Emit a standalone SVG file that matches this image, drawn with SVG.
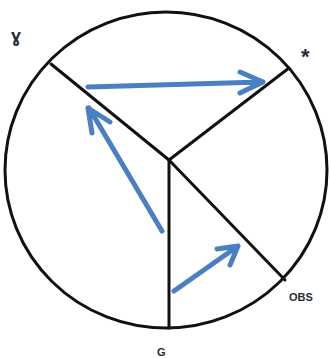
<svg xmlns="http://www.w3.org/2000/svg" width="330" height="358" viewBox="0 0 330 358">
<style>
.k{fill:none;stroke:#111;stroke-width:3;stroke-linecap:round}
.b{fill:none;stroke:#4a7fc1;stroke-width:5;stroke-linecap:round;stroke-linejoin:round}
.t{font-family:"Liberation Sans",Arial,sans-serif;font-weight:bold;fill:#2b2b38}
</style>
<rect width="330" height="358" fill="#fff"/>
<g id="circle"><ellipse class="k" cx="166" cy="170" rx="161" ry="158"/></g>
<g id="connectors">
<line class="k" x1="169" y1="160" x2="51" y2="64"/>
<line class="k" x1="169" y1="160" x2="289" y2="68"/>
<line class="k" x1="169" y1="160" x2="285" y2="280"/>
<line class="k" x1="169" y1="160" x2="169" y2="328"/>
<path class="b" d="M88 87 L262 82 M240 72 L263 82 L240 93"/>
<path class="b" d="M162 231 L89 108 M92 133 L88 108 L110 122"/>
<path class="b" d="M174 291 L238 246 M217 249 L238 246 L230 265"/>
</g>
<g id="gamma"><text class="t" x="11" y="42" font-size="18">ɣ</text></g>
<g id="star"><text class="t" x="301" y="64" font-size="22">*</text></g>
<g id="obs"><text class="t" x="289" y="301" font-size="11">OBS</text></g>
<g id="g"><text class="t" x="157" y="356" font-size="11">G</text></g>
</svg>
